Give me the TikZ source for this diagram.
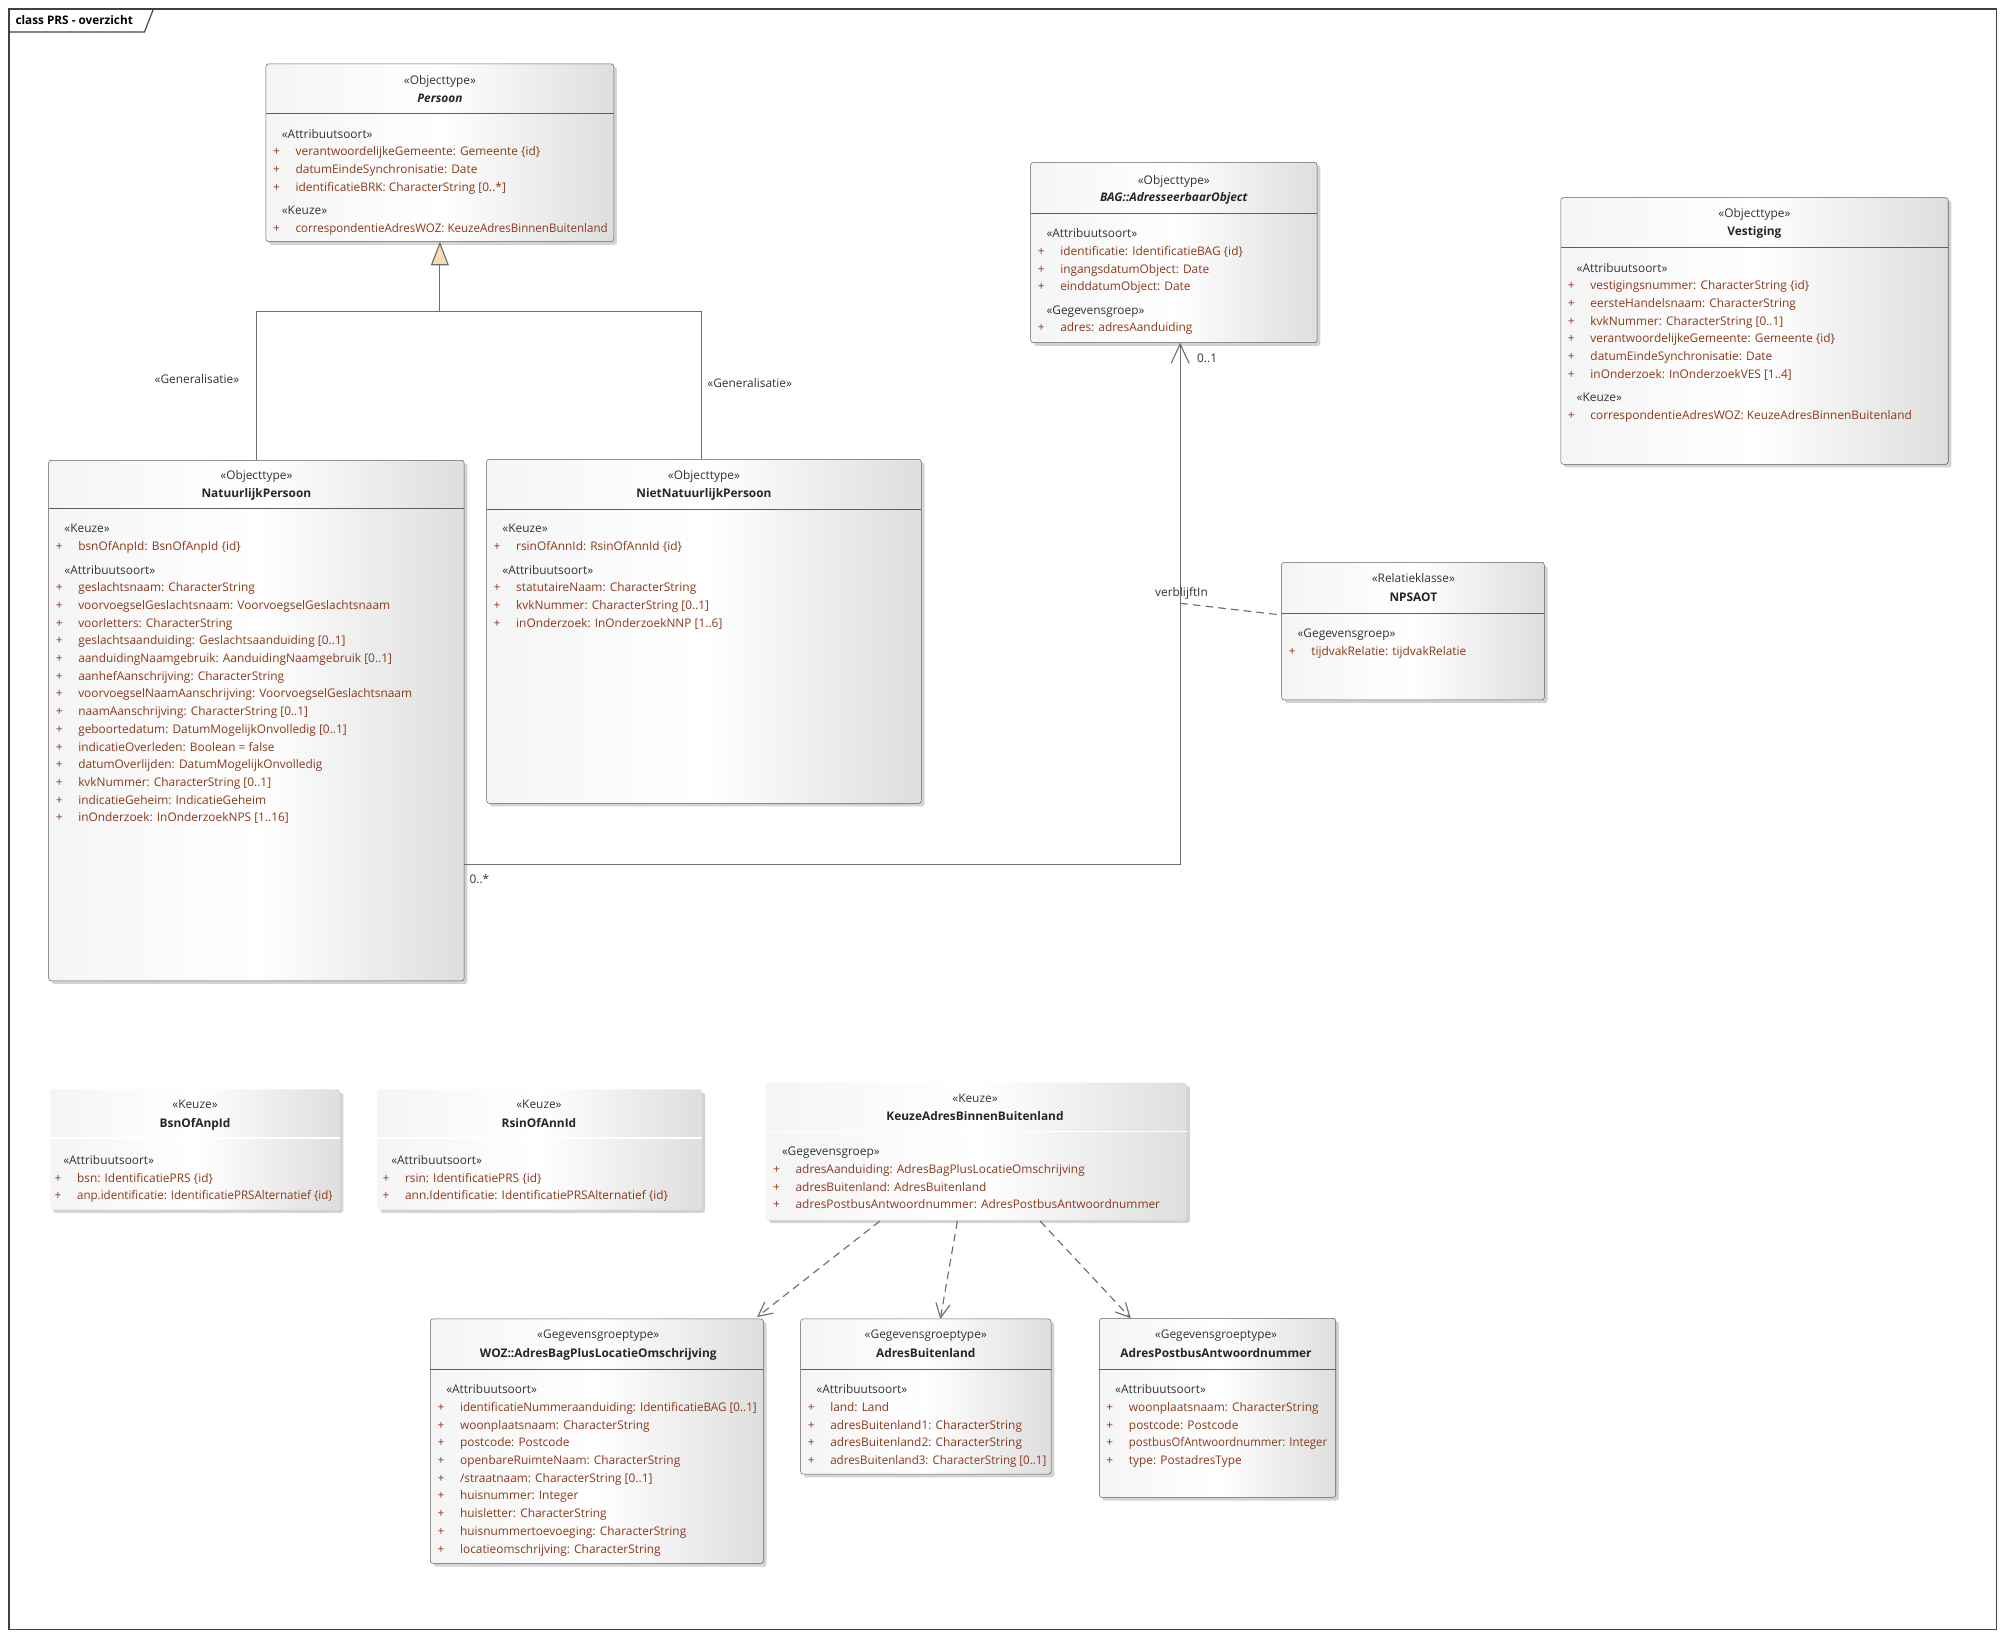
\documentclass[tikz,border=0pt]{standalone}
\usepackage{graphicx}
\usepackage{fontspec}
\setmainfont{Open Sans}
\usetikzlibrary{arrows.meta,shadows}

\definecolor{boxline}{HTML}{5F5F5F}
\definecolor{connline}{HTML}{6E6E6E}
\definecolor{attrcol}{HTML}{8B3A1A}
\definecolor{stereocol}{HTML}{333333}
\definecolor{genfill}{HTML}{F8DDB4}
\definecolor{shadecol}{HTML}{DEDEDE}

\newcommand{\attr}[1]{\makebox[17.6pt][l]{+}#1}
\newcommand{\stereo}[1]{\hspace*{6.8pt}\textcolor{stereocol}{«#1»}}

\begin{document}
\begin{tikzpicture}[x=1pt, y=-1pt,
  umlbox/.style={draw=boxline, rounded corners=2pt, inner sep=0pt, outer sep=0pt, anchor=north west,
    left color=gray!8, right color=shadecol, middle color=white,
    drop shadow={shadow xshift=2.5pt, shadow yshift=-2.5pt, opacity=0.35, fill=black!50}},
  keuzebox/.style={umlbox, draw=none},
  divider/.style={draw=boxline, line width=0.8pt},
  keuzedivider/.style={draw=white, line width=1.2pt},
  hdrstereo/.style={anchor=base, inner sep=0pt, text=stereocol, font=\fontsize{9.3pt}{11pt}\selectfont},
  hdrname/.style={anchor=base, inner sep=0pt, yshift=-0.8pt, text=black!85, font=\fontsize{9.3pt}{11pt}\selectfont\bfseries},
  body/.style={anchor=north west, inner sep=0pt, yshift=-3.7pt, align=left, text=attrcol,
    font=\fontsize{9.3pt}{13.84pt}\selectfont, execute at begin node=\rule{0pt}{10pt}},
  lbl/.style={inner sep=0pt, text=stereocol, font=\fontsize{9.3pt}{11pt}\selectfont},
  genline/.style={draw=connline, line width=0.9pt},
  assoc/.style={draw=connline, line width=0.9pt, -{Straight Barb[length=15pt, width=14pt]}},
  relline/.style={draw=connline, line width=0.9pt, dash pattern=on 6pt off 4pt},
  depend/.style={draw=connline, line width=0.9pt, dash pattern=on 6pt off 4pt, -{Straight Barb[length=11pt, width=11pt]}}
]
\useasboundingbox (0,0) rectangle (1568,1281);

% frame
\draw[draw=black!75, line width=0.9pt] (7,7) rectangle (1561,1274);
\draw[draw=black!75, line width=0.9pt] (7,25) -- (113,25) -- (120,7);
\node[lbl, anchor=base west, text=black, font=\fontsize{9.2pt}{10pt}\selectfont\bfseries] (title) at (12,19.5) {class PRS - overzicht};

% Persoon
\node[umlbox, minimum width=272pt, minimum height=139pt] (persoon) at (208,50) {};
\draw[divider] ([yshift=-39pt]persoon.north west) -- ([yshift=-39pt]persoon.north east);
\node[hdrstereo] (persoon-st) at (344,65.8) {«Objecttype»};
\node[hdrname] (persoon-nm) at (344,79.6) {\itshape Persoon};
\node[body] (persoon-body) at (213.4,97) {\stereo{Attribuutsoort}\\
\attr{verantwoordelijkeGemeente: Gemeente \{id\}}\\
\attr{datumEindeSynchronisatie: Date}\\
\attr{identificatieBRK: CharacterString [0..*]}\\[4.5pt]
\stereo{Keuze}\\
\attr{\resizebox{244pt}{\height}{correspondentieAdresWOZ: KeuzeAdresBinnenBuitenland}}};

% NatuurlijkPersoon
\node[umlbox, minimum width=325pt, minimum height=407pt] (np) at (38,360) {};
\draw[divider] ([yshift=-38pt]np.north west) -- ([yshift=-38pt]np.north east);
\node[hdrstereo] (np-st) at (200.5,375.2) {«Objecttype»};
\node[hdrname] (np-nm) at (200.5,388.2) {NatuurlijkPersoon};
\node[body] (np-body) at (43.4,406.2) {\stereo{Keuze}\\
\attr{bsnOfAnpId: BsnOfAnpId \{id\}}\\[4.5pt]
\stereo{Attribuutsoort}\\
\attr{geslachtsnaam: CharacterString}\\
\attr{voorvoegselGeslachtsnaam: VoorvoegselGeslachtsnaam}\\
\attr{voorletters: CharacterString}\\
\attr{geslachtsaanduiding: Geslachtsaanduiding [0..1]}\\
\attr{aanduidingNaamgebruik: AanduidingNaamgebruik [0..1]}\\
\attr{aanhefAanschrijving: CharacterString}\\
\attr{voorvoegselNaamAanschrijving: VoorvoegselGeslachtsnaam}\\
\attr{naamAanschrijving: CharacterString [0..1]}\\
\attr{geboortedatum: DatumMogelijkOnvolledig [0..1]}\\
\attr{indicatieOverleden: Boolean = false}\\
\attr{datumOverlijden: DatumMogelijkOnvolledig}\\
\attr{kvkNummer: CharacterString [0..1]}\\
\attr{indicatieGeheim: IndicatieGeheim}\\
\attr{inOnderzoek: InOnderzoekNPS [1..16]}};

% NietNatuurlijkPersoon
\node[umlbox, minimum width=340pt, minimum height=269pt] (nnp) at (380.5,359.2) {};
\draw[divider] ([yshift=-39pt]nnp.north west) -- ([yshift=-39pt]nnp.north east);
\node[hdrstereo] (nnp-st) at (550.5,375.2) {«Objecttype»};
\node[hdrname] (nnp-nm) at (550.5,388.2) {NietNatuurlijkPersoon};
\node[body] (nnp-body) at (385.9,406.2) {\stereo{Keuze}\\
\attr{rsinOfAnnId: RsinOfAnnId \{id\}}\\[4.5pt]
\stereo{Attribuutsoort}\\
\attr{statutaireNaam: CharacterString}\\
\attr{kvkNummer: CharacterString [0..1]}\\
\attr{inOnderzoek: InOnderzoekNNP [1..6]}};

% BAG::AdresseerbaarObject
\node[umlbox, minimum width=224pt, minimum height=141pt] (bag) at (806,127) {};
\draw[divider] ([yshift=-39.6pt]bag.north west) -- ([yshift=-39.6pt]bag.north east);
\node[hdrstereo] (bag-st) at (918,144) {«Objecttype»};
\node[hdrname] (bag-nm) at (918,157) {\itshape BAG::AdresseerbaarObject};
\node[body] (bag-body) at (811.4,174.9) {\stereo{Attribuutsoort}\\
\attr{identificatie: IdentificatieBAG \{id\}}\\
\attr{ingangsdatumObject: Date}\\
\attr{einddatumObject: Date}\\[4.5pt]
\stereo{Gegevensgroep}\\
\attr{adres: adresAanduiding}};

% Vestiging
\node[umlbox, minimum width=303pt, minimum height=208.5pt] (ves) at (1220.6,154.6) {};
\draw[divider] ([yshift=-38.8pt]ves.north west) -- ([yshift=-38.8pt]ves.north east);
\node[hdrstereo] (ves-st) at (1372,170) {«Objecttype»};
\node[hdrname] (ves-nm) at (1372,183.6) {Vestiging};
\node[body] (ves-body) at (1226,201.8) {\stereo{Attribuutsoort}\\
\attr{vestigingsnummer: CharacterString \{id\}}\\
\attr{eersteHandelsnaam: CharacterString}\\
\attr{kvkNummer: CharacterString [0..1]}\\
\attr{verantwoordelijkeGemeente: Gemeente \{id\}}\\
\attr{datumEindeSynchronisatie: Date}\\
\attr{inOnderzoek: InOnderzoekVES [1..4]}\\[4.5pt]
\stereo{Keuze}\\
\attr{correspondentieAdresWOZ: KeuzeAdresBinnenBuitenland}};

% NPSAOT
\node[umlbox, minimum width=205.4pt, minimum height=107.6pt] (npsaot) at (1002.3,439.8) {};
\draw[divider] ([yshift=-40pt]npsaot.north west) -- ([yshift=-40pt]npsaot.north east);
\node[hdrstereo] (npsaot-st) at (1105.3,455.5) {«Relatieklasse»};
\node[hdrname] (npsaot-nm) at (1105.3,469.8) {NPSAOT};
\node[body] (npsaot-body) at (1007.7,488) {\stereo{Gegevensgroep}\\
\attr{tijdvakRelatie: tijdvakRelatie}};

% BsnOfAnpId
\node[keuzebox, minimum width=227pt, minimum height=94pt] (bsn) at (39,852) {};
\draw[keuzedivider] ([yshift=-38pt]bsn.north west) -- ([yshift=-38pt]bsn.north east);
\node[hdrstereo] (bsn-st) at (152.5,866.6) {«Keuze»};
\node[hdrname] (bsn-nm) at (152.5,881.2) {BsnOfAnpId};
\node[body] (bsn-body) at (42.5,899.6) {\stereo{Attribuutsoort}\\
\attr{bsn: IdentificatiePRS \{id\}}\\
\attr{\resizebox{200pt}{\height}{anp.identificatie: IdentificatiePRSAlternatief \{id\}}}};

% RsinOfAnnId
\node[keuzebox, minimum width=254pt, minimum height=94pt] (rsin) at (295,852) {};
\draw[keuzedivider] ([yshift=-38pt]rsin.north west) -- ([yshift=-38pt]rsin.north east);
\node[hdrstereo] (rsin-st) at (421.5,866.6) {«Keuze»};
\node[hdrname] (rsin-nm) at (421.5,881.2) {RsinOfAnnId};
\node[body] (rsin-body) at (299,899.6) {\stereo{Attribuutsoort}\\
\attr{rsin: IdentificatiePRS \{id\}}\\
\attr{ann.Identificatie: IdentificatiePRSAlternatief \{id\}}};

% KeuzeAdresBinnenBuitenland
\node[keuzebox, minimum width=329pt, minimum height=107.3pt] (keuze) at (599,846.7) {};
\draw[keuzedivider] ([yshift=-38.3pt]keuze.north west) -- ([yshift=-38.3pt]keuze.north east);
\node[hdrstereo] (keuze-st) at (762.5,862.2) {«Keuze»};
\node[hdrname] (keuze-nm) at (762.5,875.7) {KeuzeAdresBinnenBuitenland};
\node[body] (keuze-body) at (604.4,893.1) {\stereo{Gegevensgroep}\\
\attr{adresAanduiding: AdresBagPlusLocatieOmschrijving}\\
\attr{adresBuitenland: AdresBuitenland}\\
\attr{adresPostbusAntwoordnummer: AdresPostbusAntwoordnummer}};

% WOZ::AdresBagPlusLocatieOmschrijving
\node[umlbox, minimum width=260.4pt, minimum height=191.1pt] (woz) at (336.6,1031.5) {};
\draw[divider] ([yshift=-39.4pt]woz.north west) -- ([yshift=-39.4pt]woz.north east);
\node[hdrstereo] (woz-st) at (467.9,1046.7) {«Gegevensgroeptype»};
\node[hdrname] (woz-nm) at (467.9,1061) {WOZ::AdresBagPlusLocatieOmschrijving};
\node[body] (woz-body) at (342,1079) {\stereo{Attribuutsoort}\\
\attr{\resizebox{232pt}{\height}{identificatieNummeraanduiding: IdentificatieBAG [0..1]}}\\
\attr{woonplaatsnaam: CharacterString}\\
\attr{postcode: Postcode}\\
\attr{openbareRuimteNaam: CharacterString}\\
\attr{/straatnaam: CharacterString [0..1]}\\
\attr{huisnummer: Integer}\\
\attr{huisletter: CharacterString}\\
\attr{huisnummertoevoeging: CharacterString}\\
\attr{locatieomschrijving: CharacterString}};

% AdresBuitenland
\node[umlbox, minimum width=195.9pt, minimum height=121.3pt] (buit) at (626.1,1031.5) {};
\draw[divider] ([yshift=-39.4pt]buit.north west) -- ([yshift=-39.4pt]buit.north east);
\node[hdrstereo] (buit-st) at (724,1046.7) {«Gegevensgroeptype»};
\node[hdrname] (buit-nm) at (724,1061) {AdresBuitenland};
\node[body] (buit-body) at (631.5,1079) {\stereo{Attribuutsoort}\\
\attr{land: Land}\\
\attr{adresBuitenland1: CharacterString}\\
\attr{adresBuitenland2: CharacterString}\\
\attr{\resizebox{169pt}{\height}{adresBuitenland3: CharacterString [0..1]}}};

% AdresPostbusAntwoordnummer
\node[umlbox, minimum width=184.9pt, minimum height=140pt] (postbus) at (859.7,1031) {};
\draw[divider] ([yshift=-39.9pt]postbus.north west) -- ([yshift=-39.9pt]postbus.north east);
\node[hdrstereo] (postbus-st) at (951,1046.7) {«Gegevensgroeptype»};
\node[hdrname] (postbus-nm) at (951,1061) {AdresPostbusAntwoordnummer};
\node[body] (postbus-body) at (865.1,1079) {\stereo{Attribuutsoort}\\
\attr{woonplaatsnaam: CharacterString}\\
\attr{postcode: Postcode}\\
\attr{\resizebox{155pt}{\height}{postbusOfAntwoordnummer: Integer}}\\
\attr{type: PostadresType}};

% generalisaties
\coordinate (genjoin) at (344,243.7);
\draw[genline, -{Triangle[length=18.5pt, width=14pt, fill=genfill]}] (np.north) |- (genjoin) -- (persoon.south);
\draw[genline] ([xshift=-2pt]nnp.north) |- (genjoin);
\node[lbl, anchor=base] (gen-np) at (154,300) {«Generalisatie»};
\node[lbl, anchor=base west] (gen-nnp) at (553,302.9) {«Generalisatie»};

% verblijftIn
\coordinate (assocbend) at (922.9,676);
\coordinate (assocmid) at (922.9,471.8);
\coordinate (npsaotlink) at (1002.3,481);
\draw[assoc] (np.east |- assocbend) -- (assocbend) -- (bag.south -| assocbend);
\draw[relline] (assocmid) -- (npsaotlink);
\node[lbl, anchor=base] (assoc-nm) at (924,466.7) {verblijftIn};
\node[lbl, anchor=base west] (assoc-src) at (367,690.8) {0..*};
\node[lbl, anchor=base west] (assoc-dst) at (936,283.2) {0..1};

% keuze afhankelijkheden
\draw[depend] ([xshift=-75.5pt, yshift=-1pt]keuze.south) -- ([xshift=-5pt, yshift=1.5pt]woz.north east);
\draw[depend] ([xshift=-14.8pt, yshift=-1pt]keuze.south) -- ([xshift=11.3pt]buit.north);
\draw[depend] ([xshift=50pt, yshift=-1pt]keuze.south) -- ([xshift=-67.8pt]postbus.north);

\end{tikzpicture}
\end{document}
